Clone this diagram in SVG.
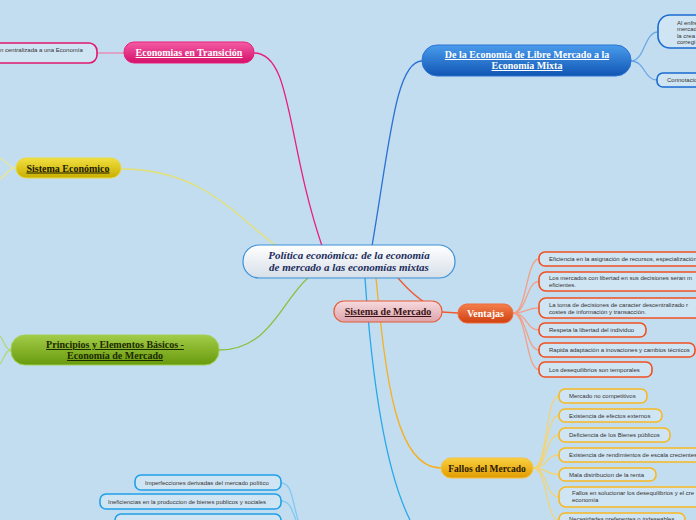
<svg xmlns="http://www.w3.org/2000/svg" width="696" height="520" viewBox="0 0 696 520">
<style>
.t{font-family:"Liberation Serif",serif;font-weight:bold;font-size:10px;text-anchor:middle;text-decoration:underline}
.s{font-family:"Liberation Sans",Arial,sans-serif;font-size:6px;fill:#333}
.c{fill:#d0e5f4;stroke-width:1.6}
.l{fill:none;stroke-width:1.3}
</style>
<defs>
<linearGradient id="gC" x1="0" y1="0" x2="0" y2="1"><stop offset="0" stop-color="#ffffff"/><stop offset="1" stop-color="#d6dfe8"/></linearGradient>
<linearGradient id="gP" x1="0" y1="0" x2="0" y2="1"><stop offset="0" stop-color="#f45ca4"/><stop offset="1" stop-color="#d4106a"/></linearGradient>
<linearGradient id="gY" x1="0" y1="0" x2="0" y2="1"><stop offset="0" stop-color="#f2e040"/><stop offset="1" stop-color="#c8ae00"/></linearGradient>
<linearGradient id="gG" x1="0" y1="0" x2="0" y2="1"><stop offset="0" stop-color="#a2cc48"/><stop offset="1" stop-color="#689a0c"/></linearGradient>
<linearGradient id="gB" x1="0" y1="0" x2="0" y2="1"><stop offset="0" stop-color="#4a9cec"/><stop offset="1" stop-color="#1056b4"/></linearGradient>
<linearGradient id="gR" x1="0" y1="0" x2="0" y2="1"><stop offset="0" stop-color="#f6dade"/><stop offset="1" stop-color="#dca4ac"/></linearGradient>
<linearGradient id="gO" x1="0" y1="0" x2="0" y2="1"><stop offset="0" stop-color="#f4804c"/><stop offset="1" stop-color="#d04010"/></linearGradient>
<linearGradient id="gF" x1="0" y1="0" x2="0" y2="1"><stop offset="0" stop-color="#fad040"/><stop offset="1" stop-color="#e09c00"/></linearGradient>
</defs>
<rect width="696" height="520" fill="#c3ddf0"/>
<g id="connectors">
<path class="l" stroke="#e8207a" d="M254,53 C292,53 286,140 322,246"/>
<path class="l" stroke="#f080b0" d="M124,53 L97,53"/>
<path class="l" stroke="#e4e070" d="M121,169 C200,169 232,212 276,246"/>
<path class="l" stroke="#e8e890" d="M16,168 C8,168 6,160 0,158 M16,168 C8,168 6,176 0,179"/>
<path class="l" stroke="#88c040" d="M219,350 C270,350 282,300 308,278"/>
<path class="l" stroke="#b0d880" d="M11,350 C5,350 4,340 0,336 M11,350 C5,350 4,360 0,364"/>
<path class="l" stroke="#2a72d4" d="M422,61 C396,61 390,140 372,246"/>
<path class="l" stroke="#6aa8e4" d="M631,61 C645,61 644,32 658,32 M631,61 C645,61 644,80 657,80"/>
<path class="l" stroke="#f05a30" d="M398,278 C410,292 425,305 442,312"/>
<path class="l" stroke="#f05a30" d="M442,312 L458,313"/>
<path class="l" stroke="#f4b020" d="M376,278 C386,380 396,468 441,468"/>
<path class="l" stroke="#28a8ea" d="M365,278 C372,380 385,470 410,520"/>
<path class="l" stroke="#f0a088" d="M513,313 C527,313 526,259 539,259 M513,313 C527,313 526,281.5 539,281.5 M513,313 C527,313 526,308 539,308 M513,313 C527,313 526,330 539,330 M513,313 C527,313 526,350 539,350 M513,313 C527,313 526,369.5 539,369.5"/>
<path class="l" stroke="#f2d478" d="M533,468 C548,468 545,396 559,396 M533,468 C548,468 545,415.5 559,415.5 M533,468 C548,468 545,435 559,435 M533,468 C548,468 545,455 559,455 M533,468 C548,468 545,474.5 559,474.5 M533,468 C548,468 545,497 559,497 M533,468 C548,468 545,520 559,520"/>
<path class="l" stroke="#80c8f0" d="M281,483 C292,483 292,500 298,520 M281,501 C290,501 292,510 296,520"/>
</g>
<g id="central">
<rect x="243" y="245" width="212" height="33" rx="16" fill="url(#gC)" stroke="#3a90d8" stroke-width="1.2"/>
<text x="349" y="258.5" style="font-family:'Liberation Serif',serif;font-weight:bold;font-style:italic;font-size:11px;text-anchor:middle;fill:#1c2c5c">Política económica: de la economía</text>
<text x="349" y="270.5" style="font-family:'Liberation Serif',serif;font-weight:bold;font-style:italic;font-size:11px;text-anchor:middle;fill:#1c2c5c">de mercado a las economías mixtas</text>
</g>
<g id="transicion">
<rect x="124" y="42" width="130" height="21" rx="10" fill="url(#gP)" stroke="#e8207a"/>
<text class="t" x="189" y="56" fill="#fff">Economias en Transición</text>
</g>
<g id="transicion-c1">
<rect class="c" x="-12" y="43" width="109" height="20" rx="8" stroke="#e0186e"/>
<text class="s" x="0" y="51.5">n centralizada a una Economía</text>
</g>
<g id="sistema-economico">
<rect x="16" y="158" width="105" height="20" rx="10" fill="url(#gY)" stroke="#e8d840"/>
<text class="t" x="68" y="171.5" fill="#1a1a00">Sistema Económico</text>
</g>
<g id="principios">
<rect x="11" y="335" width="208" height="30" rx="14" fill="url(#gG)" stroke="#a0d050"/>
<text class="t" x="115" y="348" fill="#1c2a00">Principios y Elementos Básicos -</text>
<text class="t" x="115" y="359" fill="#1c2a00">Economía de Mercado</text>
</g>
<g id="libre-mercado">
<rect x="422" y="45" width="209" height="31" rx="15" fill="url(#gB)" stroke="#2a72d4"/>
<text class="t" x="527" y="58" fill="#fff">De la Economía de Libre Mercado a la</text>
<text class="t" x="527" y="69" fill="#fff">Economía Mixta</text>
</g>
<g id="libre-c1">
<rect class="c" x="658" y="15" width="60" height="33" rx="12" stroke="#1a6ad0"/>
<text class="s" x="677" y="25">Al enfre</text>
<text class="s" x="677" y="31.3">mercad</text>
<text class="s" x="677" y="37.6">la crea</text>
<text class="s" x="677" y="43.9">corregi</text>
</g>
<g id="libre-c2">
<rect class="c" x="657" y="73" width="60" height="14" rx="6" stroke="#1a6ad0"/>
<text class="s" x="667" y="82">Connotacio</text>
</g>
<g id="sistema-mercado">
<rect x="334" y="301" width="108" height="21" rx="10" fill="url(#gR)" stroke="#e85a36" stroke-width="1.2"/>
<text class="t" x="388" y="315" fill="#3a1414">Sistema de Mercado</text>
</g>
<g id="ventajas">
<rect x="458" y="304" width="55" height="19" rx="9" fill="url(#gO)" stroke="#f06a3a"/>
<text x="485.5" y="317" style="font-family:'Liberation Serif',serif;font-weight:bold;font-size:10px;text-anchor:middle;fill:#fff">Ventajas</text>
</g>
<g id="v1"><rect class="c" x="539" y="252" width="170" height="14" rx="6" stroke="#f05020"/><text class="s" x="549" y="261">Eficiencia en la asignación de recursos, especialización</text></g>
<g id="v2"><rect class="c" x="539" y="272" width="170" height="19" rx="7" stroke="#f05020"/><text class="s" x="549" y="280">Los mercados con libertad en sus decisiones seran m</text><text class="s" x="549" y="287">eficientes.</text></g>
<g id="v3"><rect class="c" x="539" y="298" width="170" height="20" rx="7" stroke="#f05020"/><text class="s" x="549" y="306.5">La toma de decisiones de caracter descentralizado r</text><text class="s" x="549" y="313.5">costes de información y transacción.</text></g>
<g id="v4"><rect class="c" x="539" y="323" width="107" height="14" rx="6" stroke="#f05020"/><text class="s" x="549" y="332">Respeta la libertad del individuo</text></g>
<g id="v5"><rect class="c" x="539" y="343" width="156" height="14" rx="6" stroke="#f05020"/><text class="s" x="549" y="352">Rapida adaptación a inovaciones y cambios técnicos</text></g>
<g id="v6"><rect class="c" x="539" y="362" width="113" height="15" rx="6" stroke="#f05020"/><text class="s" x="549" y="371.5">Los desequilibrios son temporales</text></g>
<g id="fallos">
<rect x="441" y="458" width="92" height="20" rx="10" fill="url(#gF)" stroke="#f8c040"/>
<text x="487" y="471.5" style="font-family:'Liberation Serif',serif;font-weight:bold;font-size:9.5px;text-anchor:middle;fill:#2a1a00">Fallos del Mercado</text>
</g>
<g id="f1"><rect class="c" x="559" y="389" width="88" height="14" rx="6" stroke="#f8b820"/><text class="s" x="569" y="398">Mercado no competitivos</text></g>
<g id="f2"><rect class="c" x="559" y="409" width="103" height="13" rx="6" stroke="#f8b820"/><text class="s" x="569" y="417.5">Existencia de efectos externos</text></g>
<g id="f3"><rect class="c" x="559" y="428" width="111" height="14" rx="6" stroke="#f8b820"/><text class="s" x="569" y="437">Deficiencia de los Bienes públicos</text></g>
<g id="f4"><rect class="c" x="559" y="448" width="150" height="14" rx="6" stroke="#f8b820"/><text class="s" x="569" y="457">Existencia de rendimientos de escala crecientes</text></g>
<g id="f5"><rect class="c" x="559" y="468" width="97" height="13" rx="6" stroke="#f8b820"/><text class="s" x="569" y="476.5">Mala distribucion de la renta</text></g>
<g id="f6"><rect class="c" x="559" y="487" width="150" height="20" rx="7" stroke="#f8b820"/><text class="s" x="572" y="495">Fallos en solucionar los desequilibrios y el cre</text><text class="s" x="572" y="502">economía</text></g>
<g id="f7"><rect class="c" x="559" y="513" width="126" height="14" rx="6" stroke="#f8b820"/><text class="s" x="569" y="521">Necesidades preferentes o indeseables</text></g>
<g id="b1"><rect class="c" x="135" y="475" width="146" height="15" rx="6" stroke="#20a0e8"/><text class="s" x="145" y="484.5">Imperfecciones derivadas del mercado político</text></g>
<g id="b2"><rect class="c" x="100" y="494" width="181" height="15" rx="6" stroke="#20a0e8"/><text class="s" x="108" y="503.5">Ineficiencias en la produccion de bienes publicos y sociales</text></g>
<g id="b3"><rect class="c" x="115" y="514" width="166" height="15" rx="6" stroke="#20a0e8"/></g>
</svg>
